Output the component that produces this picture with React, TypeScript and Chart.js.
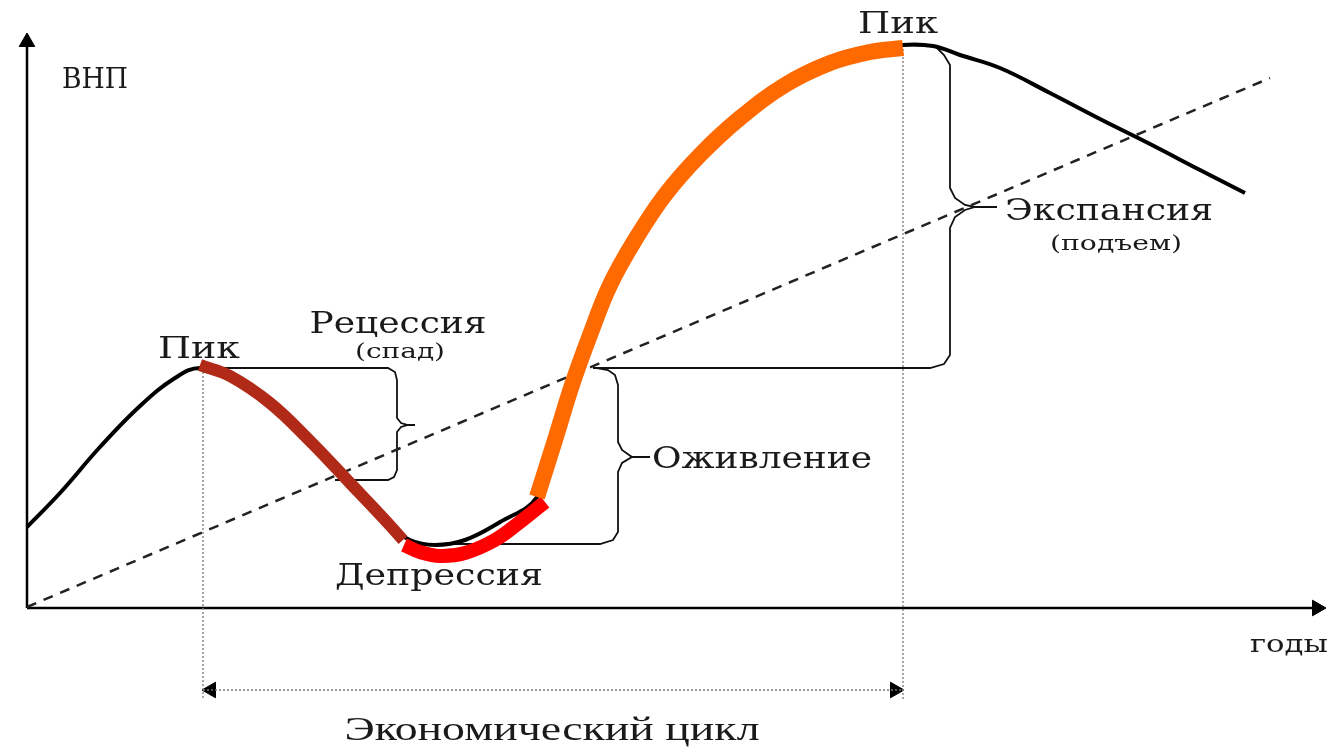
import React, { useEffect, useRef } from "react";
import { Chart, registerables } from "chart.js";
Chart.register(...registerables);

// Units: x = years (arbitrary), y = GNP (arbitrary)
const gnpX = [0, 33, 73, 113, 148, 173, 203, 243, 283, 323, 358, 383, 408, 438, 473, 510, 528, 545, 563, 583, 608, 638, 673, 713, 758, 803, 843, 876, 906, 933, 973, 1023, 1073, 1123, 1173, 1218];
const gnpY = [81, 115, 161, 202, 230, 240, 230, 203, 165, 123, 86, 68, 63, 68, 86, 111, 168, 223, 273, 323, 368, 413, 453, 490, 523, 545, 556, 563, 562, 553, 540, 515, 489, 464, 438, 415];

const recessionX = [173, 203, 243, 283, 323, 358, 376];
const recessionY = [243, 232, 205, 167, 125, 88, 68];

const depressionX = [377, 393, 413, 438, 468, 493, 518];
const depressionY = [63, 56, 52, 55, 68, 86, 106];

const expansionX = [510, 528, 545, 563, 583, 608, 638, 673, 713, 758, 803, 843, 876];
const expansionY = [111, 168, 223, 273, 323, 368, 413, 453, 490, 523, 545, 556, 560];

const trendX = [0, 1243];
const trendY = [1, 530];

const peak1X = [176, 176];
const peak1Y = [240, -92];
const peak2X = [876, 876];
const peak2Y = [563, -92];

const cycleX = [176, 876];
const cycleY = [-82, -82];

const axisYX = [0, 0];
const axisYY = [0, 566];
const axisXX = [0, 1292];
const axisXY = [0, 0];

const arrowX = [0, 1290, 184, 868];
const arrowY = [566, 0, -82, -82];
const arrowRot = [0, 90, -90, 90];

const braceRecX = [178, 361, 368, 370, 370, 374, 381, 388, 381, 374, 370, 370, 367, 361, 308];
const braceRecY = [240, 240, 236, 228, 190, 185, 183, 183, 183, 181, 176, 138, 131, 128, 128];

const braceRevX = [570, 581, 588, 591, 591, 595, 605, 623, 605, 595, 591, 591, 586, 573, 398];
const braceRevY = [240, 238, 233, 223, 166, 158, 151, 151, 151, 145, 136, 76, 68, 64, 64];

const braceExpX = [566, 903, 917, 923, 923, 928, 938, 948, 970, 948, 938, 928, 923, 923, 917, 908, 876];
const braceExpY = [240, 240, 244, 253, 380, 391, 398, 401, 401, 401, 403, 410, 420, 543, 553, 562, 563];

const labels = [
  { t: "ВНП", x: 35, y: 520, size: 27, w: 66, align: "left", font: "DejaVu Serif" },
  { t: "Пик", x: 172, y: 250, size: 29, w: 82, align: "center", font: "DejaVu Serif" },
  { t: "Рецессия", x: 371, y: 275, size: 29, w: 177, align: "center", font: "DejaVu Serif" },
  { t: "(спад)", x: 373, y: 250, size: 21, w: 90, align: "center", font: "DejaVu Serif" },
  { t: "Депрессия", x: 412, y: 23, size: 29, w: 208, align: "center", font: "DejaVu Serif" },
  { t: "Оживление", x: 735, y: 140, size: 29, w: 220, align: "center", font: "DejaVu Serif" },
  { t: "Пик", x: 871, y: 575, size: 29, w: 80, align: "center", font: "DejaVu Serif" },
  { t: "Экспансия", x: 1082, y: 388, size: 29, w: 208, align: "center", font: "DejaVu Serif" },
  { t: "(подъем)", x: 1089, y: 358, size: 21, w: 132, align: "center", font: "DejaVu Serif" },
  { t: "годы", x: 1262, y: -44, size: 24, w: 78, align: "center", font: "DejaVu Serif" },
  { t: "Экономический цикл", x: 525, y: -132, size: 34, w: 415, align: "center", font: "Liberation Serif" },
];

const pts = (xs: number[], ys: number[]) => xs.map((x, i) => ({ x, y: ys[i] }));

const textPlugin = {
  id: "texts",
  afterDatasetsDraw(chart: any) {
    const ctx = chart.ctx;
    const sx = chart.scales.x;
    const sy = chart.scales.y;
    ctx.save();
    ctx.fillStyle = "#1a1a1a";
    ctx.textBaseline = "alphabetic";
    for (const l of labels) {
      ctx.font = `${l.size}px "${l.font}", serif`;
      ctx.textAlign = l.align;
      const m = ctx.measureText(l.t).width;
      const k = l.w / m;
      ctx.save();
      ctx.translate(sx.getPixelForValue(l.x), sy.getPixelForValue(l.y));
      ctx.scale(k, 1);
      ctx.fillText(l.t, 0, 0);
      ctx.restore();
    }
    ctx.restore();
  },
};

export default function App() {
  const ref = useRef<HTMLCanvasElement>(null);
  useEffect(() => {
    const line = (data: any, color: string, width: number, extra: any = {}) => ({
      data,
      borderColor: color,
      backgroundColor: color,
      borderWidth: width,
      pointRadius: 0,
      showLine: true,
      fill: false,
      tension: 0,
      ...extra,
    });
    const chart = new Chart(ref.current!, {
      type: "scatter",
      data: {
        datasets: [
          line(pts(expansionX, expansionY), "#ff6a00", 16, { tension: 0.4 }),
          line(pts(depressionX, depressionY), "#ff0000", 14, { tension: 0.4 }),
          line(pts(recessionX, recessionY), "#b02a17", 12, { tension: 0.4 }),
          line(pts(gnpX, gnpY), "#000000", 4, { tension: 0.4 }),
          line(pts(trendX, trendY), "#222222", 2.5, { borderDash: [10, 8] }),
          line(pts(braceRecX, braceRecY), "#111111", 1.8),
          line(pts(braceRevX, braceRevY), "#111111", 1.8),
          line(pts(braceExpX, braceExpY), "#111111", 1.8),
          line(pts(peak1X, peak1Y), "#8a8a8a", 1.5, { borderDash: [2, 2] }),
          line(pts(peak2X, peak2Y), "#8a8a8a", 1.5, { borderDash: [2, 2] }),
          line(pts(cycleX, cycleY), "#777777", 1.5, { borderDash: [2, 2] }),
          line(pts(axisYX, axisYY), "#000000", 2.5),
          line(pts(axisXX, axisXY), "#000000", 2.5),
          {
            data: pts(arrowX, arrowY),
            pointStyle: "triangle",
            pointRadius: 9,
            rotation: arrowRot,
            backgroundColor: "#000000",
            borderColor: "#000000",
            borderWidth: 1,
            showLine: false,
          },
        ],
      },
      options: {
        animation: false,
        responsive: false,
        layout: { padding: 0, autoPadding: false },
        plugins: { legend: { display: false }, tooltip: { enabled: false } },
        events: [],
        scales: {
          x: { type: "linear", min: -27, max: 1305, display: false },
          y: { type: "linear", min: -139, max: 608, display: false },
        },
      },
      plugins: [textPlugin],
    } as any);
    return () => chart.destroy();
  }, []);
  return (
    <div style={{ position: "fixed", left: 0, top: 0, width: 1332, height: 747, background: "#fff" }}>
      <canvas ref={ref} width={1332} height={747} style={{ display: "block" }} />
    </div>
  );
}
